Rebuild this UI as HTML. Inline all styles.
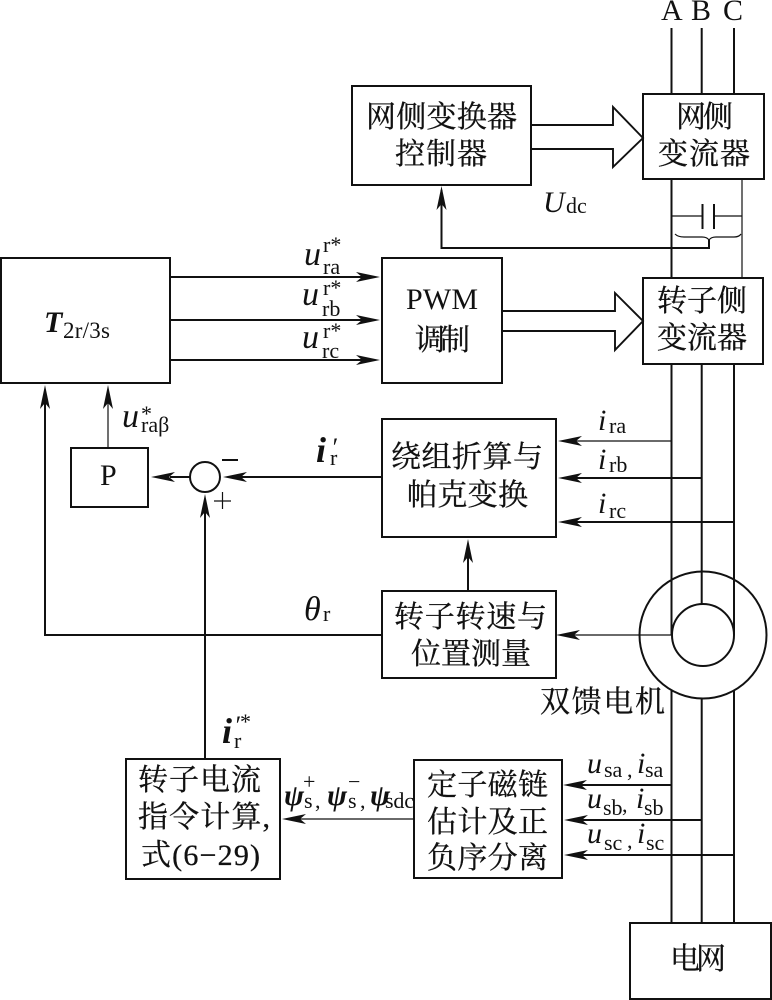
<!DOCTYPE html>
<html><head><meta charset="utf-8">
<style>
html,body{margin:0;padding:0;background:#fff;width:772px;height:1000px;overflow:hidden}
svg{display:block;filter:blur(.35px)}
.c{font-family:"Liberation Serif","Noto Serif CJK SC",serif;font-size:30px;fill:#111;stroke:#111;stroke-width:.3}
.l{font-family:"Liberation Serif",serif;font-size:30px;fill:#111}
.i{font-family:"Liberation Serif",serif;font-style:italic;font-size:34px;fill:#111}
.j{font-family:"Liberation Serif",serif;font-style:italic;font-size:30px;fill:#111}
.b{font-family:"Liberation Serif",serif;font-style:italic;font-weight:bold;font-size:30px;fill:#111}
.s{font-family:"Liberation Serif",serif;font-size:22px;fill:#111}
rect,.k{fill:none;stroke:#111;stroke-width:2}
.o{fill:none;stroke:#111;stroke-width:1.9}
.t{fill:none;stroke:#111;stroke-width:1.2}
.h{fill:#111;stroke:none}
</style></head><body>
<svg width="772" height="1000" viewBox="0 0 772 1000" xmlns="http://www.w3.org/2000/svg">
<defs><polygon id="a" class="h" points="0,0 -24,-5 -18,0 -24,5"/></defs>

<!-- three-phase lines -->
<path class="k" d="M671.5 28V94M701.7 28V94M734 28V94"/>
<path class="k" d="M671.5 179V278"/>
<path class="t" d="M742 179V278"/>
<path class="k" d="M671.5 364V635M701.7 364V604M734 364V635"/>
<path class="k" d="M671.5 690V923M701.7 698V923M734 690V923"/>

<!-- capacitor -->
<path class="t" d="M671.5 216H702M714 216H742"/>
<path class="k" d="M702.5 204V229M714 204V229"/>
<path class="t" d="M675 234Q678 237 684 237H702Q707 237 709 240Q711 237 716 237H734Q739 237 741 234"/>
<path class="k" d="M709 240V248H441.5V190"/>
<use href="#a" transform="translate(441.5,186) rotate(-90)"/>

<!-- boxes -->
<rect x="643" y="94" width="121" height="85"/>
<rect x="352" y="86" width="179" height="99"/>
<rect x="382" y="258" width="120" height="125"/>
<rect x="643" y="278" width="120" height="86"/>
<rect x="1" y="258" width="169" height="125"/>
<rect x="71" y="448" width="77" height="59"/>
<rect x="382" y="419" width="174" height="118"/>
<rect x="382" y="591" width="174" height="87"/>
<rect x="126" y="759" width="154" height="120"/>
<rect x="414" y="760" width="148" height="118"/>
<rect x="630" y="923" width="141" height="76"/>

<!-- hollow arrows -->
<path class="o" d="M531 125H613V107L643 138L613 167V149H531"/>
<path class="o" d="M502 311H615V293L643 321L615 350V331H502"/>

<!-- T to PWM -->
<path class="k" d="M170 277H375M170 320H375M170 360H375"/>
<use href="#a" transform="translate(380,277)"/>
<use href="#a" transform="translate(380,320)"/>
<use href="#a" transform="translate(380,360)"/>

<!-- up arrows to T -->
<path class="k" d="M45 390V635H382"/>
<use href="#a" transform="translate(45,385) rotate(-90)"/>
<path class="t" d="M108 390V448"/>
<use href="#a" transform="translate(108,385) rotate(-90)"/>

<!-- sum -->
<circle class="k" cx="205" cy="477" r="15"/>
<path class="k" d="M170 477H190M228 477H382"/>
<use href="#a" transform="translate(151,477) rotate(180)"/>
<use href="#a" transform="translate(223,477) rotate(180)"/>
<path class="k" d="M205 500V759"/>
<use href="#a" transform="translate(205,494) rotate(-90)"/>
<path class="k" d="M222 460H238"/>
<path class="t" d="M214 501H231M222.500 492V509"/>

<path class="k" d="M468 545V591"/>
<use href="#a" transform="translate(468,539) rotate(-90)"/>

<!-- current feedback -->
<path class="t" d="M565 441H671.500"/>
<path class="k" d="M565 478H701.700M565 522H734"/>
<use href="#a" transform="translate(558,441) rotate(180)"/>
<use href="#a" transform="translate(558,478) rotate(180)"/>
<use href="#a" transform="translate(558,522) rotate(180)"/>

<!-- motor -->
<circle class="k" cx="703" cy="635" r="63.500"/>
<circle class="k" cx="703" cy="635" r="31"/>
<path class="t" d="M565 635H671.500"/>
<use href="#a" transform="translate(556,635) rotate(180)"/>

<!-- stator feedback -->
<path class="k" d="M570 785H671.500M570 820H701.700M570 855H734"/>
<use href="#a" transform="translate(563,785) rotate(180)"/>
<use href="#a" transform="translate(564,820) rotate(180)"/>
<use href="#a" transform="translate(564,855) rotate(180)"/>
<path class="t" d="M290 819H414"/>
<use href="#a" transform="translate(282,819) rotate(180)"/>

<!-- CJK text -->
<text class="c" x="366" y="127" textLength="151">网侧变换器</text>
<text class="c" x="395" y="164" textLength="92">控制器</text>
<text class="c" x="676" y="127" textLength="57">网侧</text>
<text class="c" x="658" y="164" textLength="92">变流器</text>
<text class="l" x="406" y="309" textLength="72">PWM</text>
<text class="c" x="415" y="350" textLength="55">调制</text>
<text class="c" x="657" y="311" textLength="90">转子侧</text>
<text class="c" x="657" y="348" textLength="90">变流器</text>
<text class="c" x="391" y="467" textLength="152">绕组折算与</text>
<text class="c" x="407" y="505" textLength="121">帕克变换</text>
<text class="c" x="394" y="627" textLength="153">转子转速与</text>
<text class="c" x="411" y="664" textLength="120">位置测量</text>
<text class="c" x="540" y="712" textLength="125">双馈电机</text>
<text class="c" x="138" y="790" textLength="123">转子电流</text>
<text class="c" x="138" y="827" textLength="132">指令计算,</text>
<text class="c" x="141" y="865" textLength="119">式(6−29)</text>
<text class="c" x="427" y="795" textLength="121">定子磁链</text>
<text class="c" x="427" y="832" textLength="121">估计及正</text>
<text class="c" x="427" y="868" textLength="121">负序分离</text>
<text class="c" x="670" y="969" textLength="56">电网</text>

<!-- ABC -->
<text class="l" x="661" y="20">A</text>
<text class="l" x="691" y="20">B</text>
<text class="l" x="723" y="20">C</text>

<!-- math labels -->
<text class="j" x="543" y="212">U</text><text class="s" x="566" y="213">dc</text>

<text class="i" x="304" y="265">u</text><text class="s" x="323" y="252">r*</text><text class="s" x="323" y="274">ra</text>
<text class="i" x="302" y="305">u</text><text class="s" x="323" y="295">r*</text><text class="s" x="322" y="316">rb</text>
<text class="i" x="302" y="348">u</text><text class="s" x="323" y="338">r*</text><text class="s" x="322" y="358">rc</text>

<text class="b" x="44" y="332">T</text><text class="s" x="63" y="338" textLength="47" style="font-size:23px">2r/3s</text>

<text class="i" x="122" y="427">u</text><text class="s" x="141" y="421">*</text><text class="s" x="141" y="432">raβ</text>
<text class="l" x="100" y="485">P</text>

<text class="b" x="316" y="462" style="font-size:36px">i</text><text class="s" x="330" y="465">r</text><text class="j" x="331" y="456" style="font-size:26px">′</text>
<text class="i" x="304" y="620">θ</text><text class="s" x="323" y="621">r</text>

<text class="j" x="598" y="430">i</text><text class="s" x="609" y="433">ra</text>
<text class="j" x="598" y="469">i</text><text class="s" x="609" y="472">rb</text>
<text class="j" x="598" y="513">i</text><text class="s" x="609" y="518">rc</text>

<text class="b" x="222" y="743" style="font-size:36px">i</text><text class="s" x="234" y="748">r</text><text class="j" x="234" y="734" style="font-size:26px">′</text><text class="s" x="240" y="729">*</text>

<text class="b" x="284" y="805">ψ</text><text class="s" x="304" y="808">s</text><text class="s" x="303" y="789">+</text><text class="s" x="315" y="808">,</text>
<text class="b" x="327" y="805">ψ</text><text class="s" x="348" y="808">s</text><text class="s" x="348" y="789">−</text><text class="s" x="360" y="808">,</text>
<text class="b" x="370" y="805">ψ</text><text class="s" x="385" y="808" textLength="29">sdc</text>

<text class="j" x="587" y="773">u</text><text class="s" x="604" y="777">sa</text><text class="s" x="627" y="777">,</text><text class="j" x="637" y="773">i</text><text class="s" x="645" y="777">sa</text>
<text class="j" x="587" y="808">u</text><text class="s" x="603" y="815">sb</text><text class="s" x="622" y="812">,</text><text class="j" x="636" y="808">i</text><text class="s" x="644" y="815">sb</text>
<text class="j" x="587" y="843">u</text><text class="s" x="604" y="850">sc</text><text class="s" x="627" y="848">,</text><text class="j" x="637" y="843">i</text><text class="s" x="646" y="850">sc</text>
</svg>
</body></html>
